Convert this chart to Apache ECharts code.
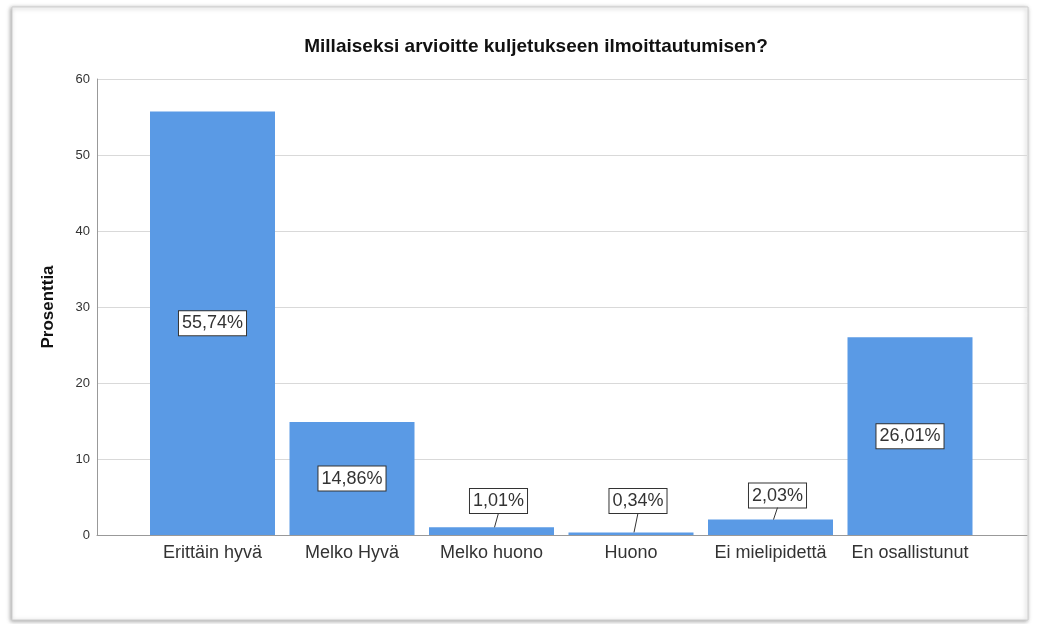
<!DOCTYPE html>
<html>
<head>
<meta charset="utf-8">
<script src="https://cdn.jsdelivr.net/npm/echarts@6/dist/echarts.min.js"></script>
<style>
  html, body { margin: 0; padding: 0; background: #ffffff; }
  #chart { width: 1046px; height: 624px; }
</style>
</head>
<body>
<div id="chart"></div>
<script>
// Survey answers: share of respondents per rating
const categories = ['Erittäin hyvä', 'Melko Hyvä', 'Melko huono', 'Huono', 'Ei mielipidettä', 'En osallistunut'];
const percentages = [55.74, 14.86, 1.01, 0.34, 2.03, 26.01];
const yMin = 0;
const yMax = 60;
const yStep = 10;

const FONT = '"Liberation Sans", Arial, sans-serif';
const BAR_COLOR = '#5a9ae5';
const TEXT = '#333333';
const SMALL = 5;          // bars shorter than this get their label lifted above them
const LIFT_DX = 7;        // sideways shift of a lifted label
const LABEL_HALF_H = 12;  // half height of a label box

function pctLabel(v) {
  return v.toFixed(2).replace('.', ',') + '%';
}

// vertical centre of a lifted label, from the bar top and the baseline (pixels)
function liftedCenterY(topY, baseY) {
  return Math.min(topY - 24, baseY - 34);
}

const labelBox = {
  show: true,
  formatter: p => pctLabel(p.value),
  fontFamily: FONT,
  fontSize: 18,
  color: TEXT,
  backgroundColor: '#ffffff',
  borderColor: '#333333',
  borderWidth: 1,
  padding: [4, 3, 2, 3]
};

const barData = percentages.map(v => ({
  value: v,
  label: Object.assign({}, labelBox, v < SMALL ? { position: 'top', distance: 0 } : { position: 'inside' })
}));

// indices + values of the short bars, for their leader lines
const leaderData = percentages
  .map((v, i) => [i, v])
  .filter(d => d[1] < SMALL);

function placeLabel(p) {
  if (percentages[p.dataIndex] >= SMALL) return {};
  const r = p.rect;
  return {
    x: r.x + r.width / 2 + LIFT_DX,
    y: liftedCenterY(r.y, r.y + r.height),
    align: 'center',
    verticalAlign: 'middle'
  };
}

function renderLeader(params, api) {
  const top = api.coord([api.value(0), api.value(1)]);
  const base = api.coord([api.value(0), 0]);
  const cy = liftedCenterY(top[1], base[1]);
  return {
    type: 'line',
    shape: { x1: top[0] + 3, y1: top[1], x2: top[0] + LIFT_DX, y2: cy + LABEL_HALF_H },
    style: { stroke: '#333333', lineWidth: 1 }
  };
}

const chart = echarts.init(document.getElementById('chart'), null, { renderer: 'canvas' });

chart.setOption({
  animation: false,
  backgroundColor: '#ffffff',
  graphic: [{
    type: 'rect',
    z: -10,
    shape: { x: 12, y: 7, width: 1016, height: 613 },
    style: {
      fill: '#ffffff',
      stroke: '#cfcfcf',
      lineWidth: 1,
      shadowBlur: 4,
      shadowColor: 'rgba(0,0,0,0.35)',
      shadowOffsetX: -1,
      shadowOffsetY: 1
    }
  }],
  title: {
    text: 'Millaiseksi arvioitte kuljetukseen ilmoittautumisen?',
    left: 531,
    top: 32,
    textAlign: 'center',
    textStyle: { fontFamily: FONT, fontSize: 19, fontWeight: 'bold', color: '#111111' }
  },
  grid: [
    // frame: value scale, grid lines and axis lines
    { left: 97, right: 19, top: 79, bottom: 89 },
    // bars
    { left: 142.75, right: 66.25, top: 79, bottom: 89 }
  ],
  xAxis: [
    {
      gridIndex: 0, type: 'value', min: 0, max: 1,
      axisLine: { show: true, lineStyle: { color: '#999999', width: 1 } },
      axisTick: { show: false }, axisLabel: { show: false }, splitLine: { show: false }
    },
    {
      gridIndex: 1, type: 'category', data: categories,
      axisLine: { show: false }, axisTick: { show: false },
      axisLabel: { fontFamily: FONT, fontSize: 18, color: TEXT, margin: 9, interval: 0 }
    }
  ],
  yAxis: [
    {
      gridIndex: 0, type: 'value', min: yMin, max: yMax, interval: yStep,
      name: 'Prosenttia', nameLocation: 'middle', nameGap: 40, nameRotate: 90,
      nameTextStyle: { fontFamily: FONT, fontSize: 17, fontWeight: 'bold', color: '#111111' },
      axisLine: { show: true, lineStyle: { color: '#999999', width: 1 } },
      axisTick: { show: false },
      axisLabel: { fontFamily: FONT, fontSize: 13, color: TEXT, margin: 7 },
      splitLine: { show: true, lineStyle: { color: '#d9d9d9', width: 1 } }
    },
    {
      gridIndex: 1, type: 'value', min: yMin, max: yMax, interval: yStep,
      axisLine: { show: false }, axisTick: { show: false },
      axisLabel: { show: false }, splitLine: { show: false }
    }
  ],
  series: [
    {
      type: 'bar',
      xAxisIndex: 1,
      yAxisIndex: 1,
      data: barData,
      barWidth: 125,
      itemStyle: { color: BAR_COLOR },
      labelLayout: placeLabel
    },
    {
      type: 'custom',
      xAxisIndex: 1,
      yAxisIndex: 1,
      data: leaderData,
      renderItem: renderLeader,
      silent: true,
      z: 3
    }
  ]
});
</script>
</body>
</html>
